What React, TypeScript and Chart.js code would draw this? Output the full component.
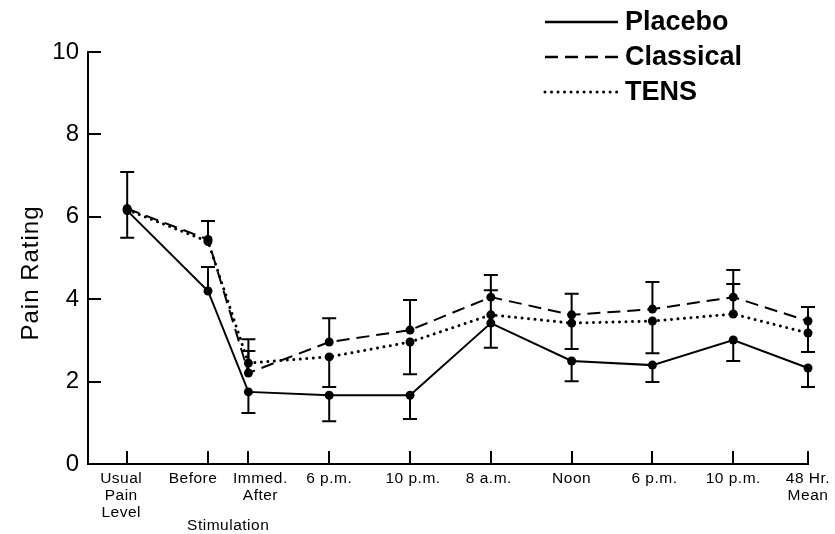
import React, { useEffect, useRef } from 'react';
import { Chart, registerables } from 'chart.js';

Chart.register(...registerables);

// ---- data ----
const categories: string[][] = [
  ['Usual', 'Pain', 'Level'],
  ['Before'],
  ['Immed.', 'After'],
  ['6 p.m.'],
  ['10 p.m.'],
  ['8 a.m.'],
  ['Noon'],
  ['6 p.m.'],
  ['10 p.m.'],
  ['48 Hr.', 'Mean'],
];
// position of each measurement along the time axis
const timePositions = [0, 2, 3, 5, 7, 9, 11, 13, 15, 16.85];

const placebo = [6.15, 4.2, 1.75, 1.67, 1.67, 3.42, 2.5, 2.4, 3.01, 2.33];
const classical = [6.2, 5.45, 2.21, 2.96, 3.25, 4.05, 3.62, 3.76, 4.05, 3.47];
const tens = [6.17, 5.4, 2.45, 2.6, 2.96, 3.62, 3.42, 3.47, 3.64, 3.18];

// end value of each drawn error bar (null = none shown)
const placeboErr = [7.09, 4.78, 1.24, 1.04, 1.09, 2.82, 2.01, 1.99, 2.5, 1.87];
const classicalErr = [null, 5.9, 2.74, 3.54, 3.98, 4.59, 4.13, 4.42, 4.71, 2.72];
const tensErr = [5.49, null, 3.03, 1.87, 2.18, 4.22, 2.79, 2.69, 4.37, 3.81];

const yTicks = [0, 2, 4, 6, 8, 10];
const seriesNames = ['Placebo', 'Classical', 'TENS'];

// ---- style ----
const FONT = '"Liberation Sans", Arial, Helvetica, sans-serif';
const classicalDash = [13, 7];
const tensDash = [0.01, 6.5];
// horizontal nudge of crowded x labels (px)
const labelNudge = [-6, -15, 12, 0, 3, -2, 0, 2, 0, 0];

const errorSets = [placeboErr, classicalErr, tensErr];

const toPoints = (vals: number[]) => vals.map((v, i) => ({ x: timePositions[i], y: v }));

const decorPlugin = {
  id: 'decor',
  afterDatasetsDraw(chart: any) {
    const ctx = chart.ctx;
    const y = chart.scales.y;
    ctx.save();
    ctx.strokeStyle = '#000';
    ctx.lineWidth = 2;
    ctx.setLineDash([]);
    errorSets.forEach((errs, di) => {
      const meta = chart.getDatasetMeta(di);
      errs.forEach((e, j) => {
        if (e === null || e === undefined) return;
        const pt = meta.data[j];
        const y1 = y.getPixelForValue(e);
        ctx.beginPath();
        ctx.moveTo(pt.x, pt.y);
        ctx.lineTo(pt.x, y1);
        ctx.moveTo(pt.x - 7, y1);
        ctx.lineTo(pt.x + 7, y1);
        ctx.stroke();
      });
    });
    ctx.restore();
  },
  afterDraw(chart: any) {
    const ctx = chart.ctx;
    const area = chart.chartArea;
    const xs = chart.scales.x;
    const ys = chart.scales.y;
    ctx.save();
    ctx.strokeStyle = '#000';
    ctx.lineWidth = 2;
    ctx.setLineDash([]);
    // inward tick marks
    yTicks.forEach((v) => {
      const py = Math.round(ys.getPixelForValue(v));
      ctx.beginPath();
      ctx.moveTo(area.left, py);
      ctx.lineTo(area.left + 13, py);
      ctx.stroke();
    });
    timePositions.forEach((v) => {
      const px = Math.round(xs.getPixelForValue(v));
      ctx.beginPath();
      ctx.moveTo(px, area.bottom);
      ctx.lineTo(px, area.bottom - 13);
      ctx.stroke();
    });
    ctx.fillStyle = '#000';
    ctx.textAlign = 'center';
    ctx.textBaseline = 'middle';
    // x tick labels
    ctx.font = `15.5px ${FONT}`;
    (ctx as any).letterSpacing = '0.5px';
    categories.forEach((lines, i) => {
      const px = xs.getPixelForValue(timePositions[i]) + labelNudge[i];
      lines.forEach((t, k) => {
        ctx.fillText(t, px, area.bottom + 15 + k * 17);
      });
    });
    // group label
    ctx.fillText('Stimulation', (xs.getPixelForValue(timePositions[1]) + xs.getPixelForValue(timePositions[2])) / 2, 526);
    // axis title
    ctx.font = `24px ${FONT}`;
    (ctx as any).letterSpacing = '1px';
    ctx.save();
    ctx.translate(31, 273);
    ctx.rotate(-Math.PI / 2);
    ctx.fillText('Pain Rating', 0, 0);
    ctx.restore();
    (ctx as any).letterSpacing = '0px';
    // legend
    const dashes = [[], classicalDash, tensDash];
    const widths = [2.5, 2.5, 3];
    const rowY = [22, 57, 92];
    ctx.textAlign = 'left';
    ctx.font = `bold 27px ${FONT}`;
    seriesNames.forEach((name, i) => {
      ctx.beginPath();
      ctx.lineWidth = widths[i];
      ctx.lineCap = i === 2 ? 'round' : 'butt';
      ctx.setLineDash(dashes[i]);
      ctx.moveTo(545, rowY[i]);
      ctx.lineTo(618, rowY[i]);
      ctx.stroke();
      ctx.setLineDash([]);
      ctx.fillText(name, 625, rowY[i] + 1);
    });
    ctx.restore();
  },
};

export default function App() {
  const canvasRef = useRef<HTMLCanvasElement | null>(null);

  useEffect(() => {
    if (!canvasRef.current) return;
    const common = {
      borderColor: '#000',
      backgroundColor: '#000',
      pointBackgroundColor: '#000',
      pointBorderWidth: 0,
      pointRadius: 4.5,
      fill: false,
      tension: 0,
      clip: false as any,
    };
    const chart = new Chart(canvasRef.current, {
      type: 'line',
      data: {
        datasets: [
          { ...common, label: seriesNames[0], data: toPoints(placebo), borderWidth: 2 },
          { ...common, label: seriesNames[1], data: toPoints(classical), borderWidth: 2, borderDash: classicalDash },
          {
            ...common,
            label: seriesNames[2],
            data: toPoints(tens),
            borderWidth: 3,
            borderDash: tensDash,
            borderCapStyle: 'round',
          },
        ],
      },
      options: {
        animation: false,
        responsive: true,
        maintainAspectRatio: false,
        layout: { padding: { top: 52, right: 27, left: 0, bottom: 0 }, autoPadding: false } as any,
        plugins: { legend: { display: false }, tooltip: { enabled: false } },
        scales: {
          x: {
            type: 'linear',
            min: -0.97,
            max: 16.85,
            grid: { display: false, drawTicks: false },
            border: { display: true, color: '#000', width: 2 },
            afterBuildTicks: (scale: any) => {
              scale.ticks = timePositions.map((v) => ({ value: v }));
            },
            afterFit: (scale: any) => {
              scale.height = 70;
            },
            ticks: { display: false },
          },
          y: {
            min: 0,
            max: 10,
            grid: { display: false, drawTicks: false },
            border: { display: true, color: '#000', width: 2 },
            afterBuildTicks: (scale: any) => {
              scale.ticks = yTicks.map((v) => ({ value: v }));
            },
            afterFit: (scale: any) => {
              scale.width = 88;
            },
            ticks: {
              padding: 9,
              color: '#000',
              font: { family: FONT, size: 24 },
            },
          },
        },
      },
      plugins: [decorPlugin],
    });
    return () => chart.destroy();
  }, []);

  return (
    <div style={{ position: 'fixed', left: 0, top: 0, width: 835, height: 534, background: '#fff' }}>
      <canvas ref={canvasRef} />
    </div>
  );
}
